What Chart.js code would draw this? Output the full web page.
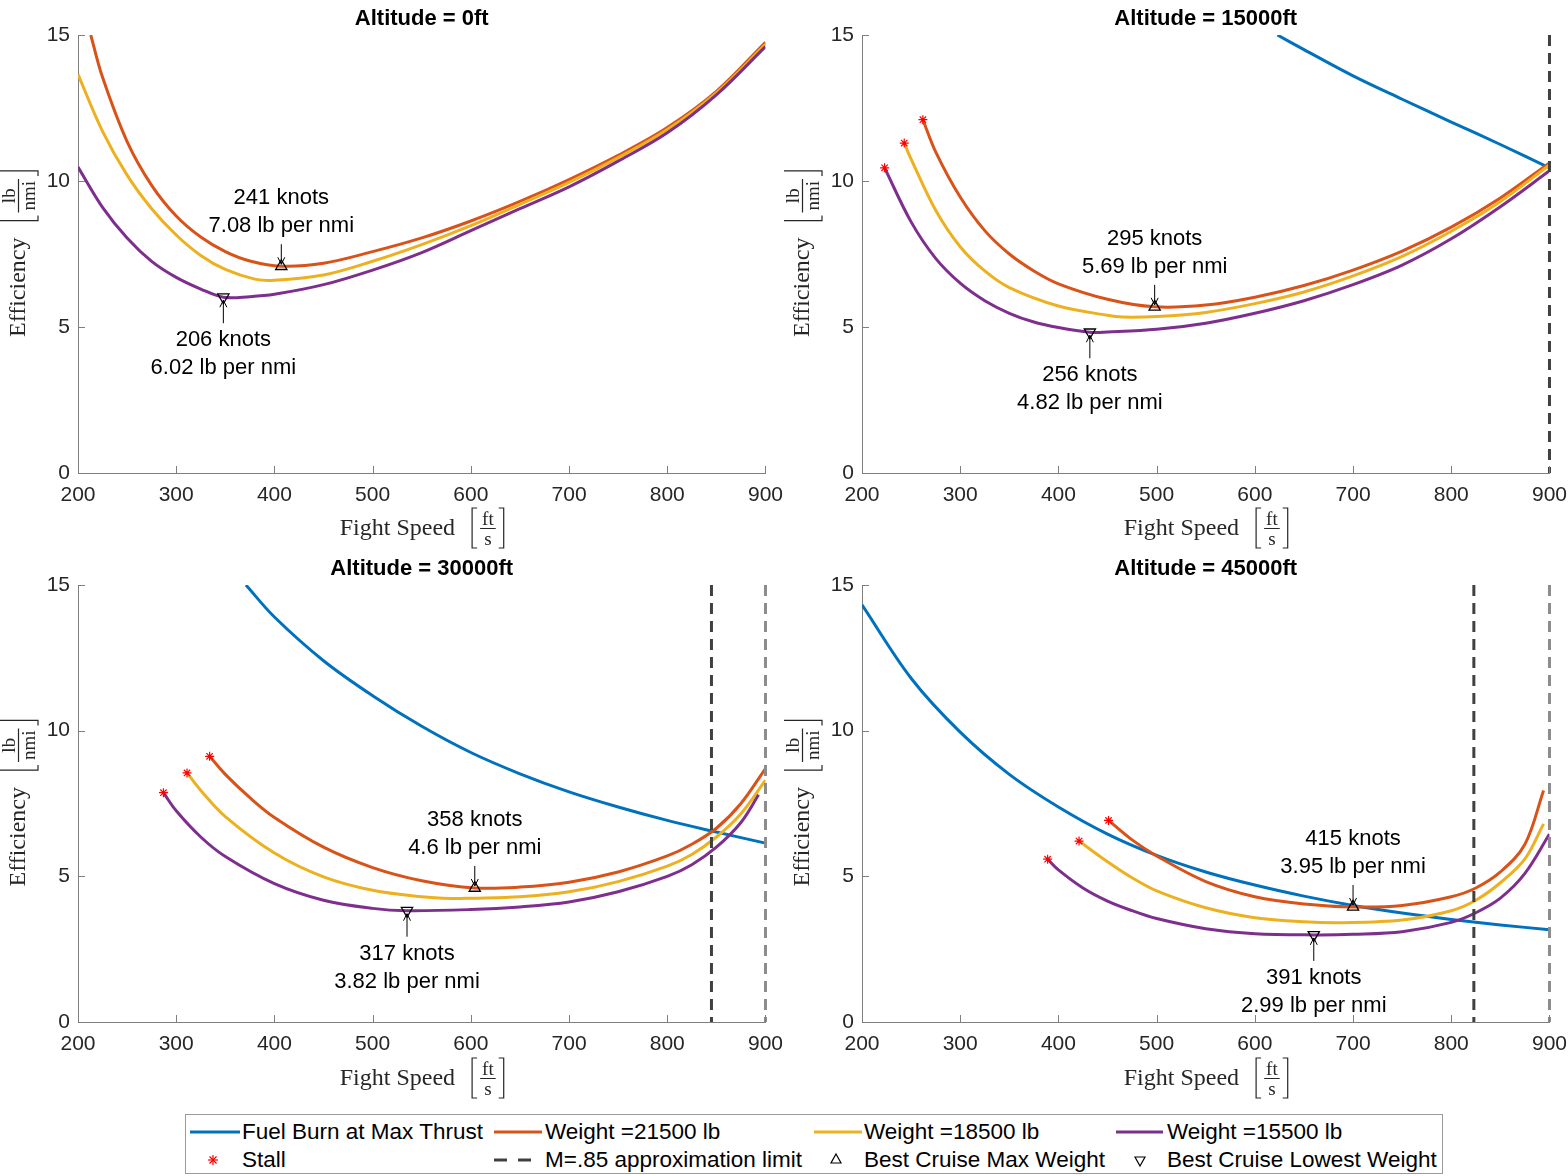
<!DOCTYPE html>
<html>
<head>
<meta charset="utf-8">
<script src="https://cdn.jsdelivr.net/npm/chart.js@4.4.1/dist/chart.umd.min.js"></script>
<style>
  body { margin: 0; background: #fff; width: 1568px; height: 1176px; position: relative; overflow: hidden; font-family: "Liberation Sans", Arial, sans-serif; }
  .panel { position: absolute; width: 793px; height: 560px; }
  #legend { position: absolute; left: 185px; top: 1114px; width: 1256px; height: 58px; border: 1px solid #9a9a9a; background: #fff; }
  #legend span { position: absolute; font-size: 22.5px; line-height: 26px; color: #000; white-space: nowrap; }
  #legend svg { position: absolute; left: 0; top: 0; }
</style>
</head>
<body>
<div class="panel" style="left:0;top:0"><canvas id="c0" width="793" height="560"></canvas></div>
<div class="panel" style="left:784px;top:0"><canvas id="c1" width="793" height="560"></canvas></div>
<div class="panel" style="left:0;top:550px"><canvas id="c2" width="793" height="560"></canvas></div>
<div class="panel" style="left:784px;top:550px"><canvas id="c3" width="793" height="560"></canvas></div>

<div id="legend">
  <svg width="1256" height="58">
    <line x1="4" y1="17" x2="54" y2="17" stroke="#0072BD" stroke-width="3"/>
    <line x1="308" y1="17" x2="356" y2="17" stroke="#D95319" stroke-width="3"/>
    <line x1="628" y1="17" x2="676" y2="17" stroke="#EDB120" stroke-width="3"/>
    <line x1="930" y1="17" x2="977" y2="17" stroke="#7E2F8E" stroke-width="3"/>
    <g stroke="#ff0000" stroke-width="1.2">
      <line x1="22" y1="45" x2="32" y2="45"/><line x1="27" y1="40" x2="27" y2="50"/>
      <line x1="23.5" y1="41.5" x2="30.5" y2="48.5"/><line x1="30.5" y1="41.5" x2="23.5" y2="48.5"/>
    </g>
    <line x1="308" y1="45" x2="356" y2="45" stroke="#404040" stroke-width="3" stroke-dasharray="13 11"/>
    <polygon points="650,39 655,48 645,48" fill="none" stroke="#000" stroke-width="1.2"/>
    <polygon points="954,51 959,42 949,42" fill="none" stroke="#000" stroke-width="1.2"/>
  </svg>
  <span style="left:56px;top:4px">Fuel Burn at Max Thrust</span>
  <span style="left:359px;top:4px">Weight =21500 lb</span>
  <span style="left:678px;top:4px">Weight =18500 lb</span>
  <span style="left:981px;top:4px">Weight =15500 lb</span>
  <span style="left:56px;top:32px">Stall</span>
  <span style="left:359px;top:32px">M=.85 approximation limit</span>
  <span style="left:678px;top:32px">Best Cruise Max Weight</span>
  <span style="left:981px;top:32px">Best Cruise Lowest Weight</span>
</div>

<script>
// axis ticks
const xTickValues = [200, 300, 400, 500, 600, 700, 800, 900];
const yTickValues = [0, 5, 10, 15];

// ---- Altitude = 0ft ----
const a0SpeedHeavy = [213, 225, 250, 275, 300, 325, 350, 375, 407, 450, 500, 550, 600, 650, 700, 750, 800, 850, 900];
const a0EffHeavy   = [15.0, 13.55, 11.35, 9.85, 8.8, 8.08, 7.58, 7.26, 7.08, 7.18, 7.58, 8.05, 8.63, 9.3, 10.05, 10.88, 11.83, 13.07, 14.75];
const a0SpeedMid   = [200, 225, 250, 275, 300, 325, 350, 380, 400, 450, 500, 550, 600, 650, 700, 750, 800, 850, 900];
const a0EffMid     = [13.65, 11.7, 10.2, 9.05, 8.15, 7.45, 6.97, 6.64, 6.6, 6.78, 7.25, 7.82, 8.47, 9.2, 9.95, 10.8, 11.76, 13.02, 14.68];
const a0SpeedLight = [200, 225, 250, 275, 300, 325, 348, 375, 400, 450, 500, 550, 600, 650, 700, 750, 800, 850, 900];
const a0EffLight   = [10.48, 9.1, 8.05, 7.25, 6.7, 6.3, 6.02, 6.04, 6.12, 6.45, 6.95, 7.55, 8.3, 9.05, 9.8, 10.68, 11.65, 12.95, 14.6];

// ---- Altitude = 15000ft ----
const a15SpeedThrust = [623, 650, 700, 750, 800, 850, 900];
const a15EffThrust   = [15.0, 14.5, 13.6, 12.8, 12.02, 11.25, 10.45];
const a15SpeedHeavy  = [262, 275, 300, 325, 350, 375, 400, 450, 498, 550, 600, 650, 700, 750, 800, 850, 900];
const a15EffHeavy    = [12.1, 11.0, 9.45, 8.3, 7.5, 6.92, 6.48, 5.95, 5.69, 5.75, 6.02, 6.42, 6.95, 7.6, 8.42, 9.42, 10.62];
const a15SpeedMid    = [243, 250, 275, 300, 325, 350, 400, 450, 465, 500, 550, 600, 650, 700, 750, 800, 850, 900];
const a15EffMid      = [11.3, 10.75, 9.0, 7.75, 6.92, 6.35, 5.72, 5.4, 5.34, 5.36, 5.5, 5.8, 6.2, 6.75, 7.42, 8.28, 9.3, 10.55];
const a15SpeedLight  = [223, 250, 275, 300, 325, 350, 375, 400, 432, 450, 500, 550, 600, 650, 700, 750, 800, 850, 900];
const a15EffLight    = [10.45, 8.6, 7.35, 6.5, 5.9, 5.47, 5.17, 4.98, 4.82, 4.83, 4.92, 5.13, 5.47, 5.9, 6.45, 7.12, 8.02, 9.12, 10.35];

// ---- Altitude = 30000ft ----
const a30SpeedThrust = [371, 400, 450, 500, 550, 600, 650, 700, 750, 800, 850, 900];
const a30EffThrust   = [15.0, 13.9, 12.4, 11.2, 10.15, 9.25, 8.52, 7.9, 7.38, 6.92, 6.52, 6.14];
const a30SpeedHeavy  = [334, 350, 375, 400, 450, 500, 550, 604, 650, 700, 750, 800, 825, 850, 875, 900];
const a30EffHeavy    = [9.12, 8.5, 7.7, 7.02, 6.0, 5.3, 4.85, 4.6, 4.63, 4.8, 5.15, 5.7, 6.1, 6.65, 7.5, 8.7];
const a30SpeedMid    = [311, 325, 350, 400, 450, 500, 550, 580, 600, 650, 700, 750, 800, 825, 850, 875, 900];
const a30EffMid      = [8.55, 7.95, 7.05, 5.8, 4.98, 4.52, 4.3, 4.24, 4.25, 4.3, 4.47, 4.82, 5.35, 5.75, 6.35, 7.15, 8.3];
const a30SpeedLight  = [287, 300, 325, 350, 400, 450, 500, 535, 600, 650, 700, 750, 800, 825, 850, 875, 893];
const a30EffLight    = [7.87, 7.25, 6.35, 5.68, 4.75, 4.18, 3.9, 3.82, 3.86, 3.95, 4.12, 4.47, 5.0, 5.4, 6.0, 6.85, 7.8];

// ---- Altitude = 45000ft ----
const a45SpeedThrust = [200, 250, 300, 350, 400, 450, 500, 550, 600, 650, 700, 750, 800, 850, 900];
const a45EffThrust   = [14.32, 11.8, 9.95, 8.5, 7.38, 6.45, 5.72, 5.15, 4.7, 4.32, 4.0, 3.74, 3.52, 3.33, 3.17];
const a45SpeedHeavy  = [451, 475, 500, 550, 600, 650, 700, 750, 800, 825, 850, 875, 894];
const a45EffHeavy    = [6.92, 6.25, 5.7, 4.82, 4.3, 4.05, 3.95, 4.0, 4.3, 4.6, 5.15, 6.1, 7.95];
const a45SpeedMid    = [421, 450, 475, 500, 550, 600, 650, 690, 750, 800, 825, 850, 875, 894];
const a45EffMid      = [6.21, 5.5, 4.95, 4.5, 3.92, 3.58, 3.44, 3.41, 3.5, 3.82, 4.18, 4.78, 5.6, 6.8];
const a45SpeedLight  = [389, 400, 425, 450, 475, 500, 550, 600, 660, 700, 750, 800, 825, 850, 875, 900];
const a45EffLight    = [5.59, 5.22, 4.6, 4.15, 3.82, 3.55, 3.2, 3.03, 2.99, 3.01, 3.1, 3.42, 3.75, 4.25, 5.1, 6.45];

// best cruise points: speed (ft/s), efficiency, knots label, lb/nmi label
const bestMaxSpeed  = [407, 498, 604, 700];
const bestMaxEff    = [7.08, 5.69, 4.6, 3.95];
const bestMaxKnots  = ['241', '295', '358', '415'];
const bestMaxLabel  = ['7.08', '5.69', '4.6', '3.95'];
const bestMinSpeed  = [348, 432, 535, 660];
const bestMinEff    = [6.02, 4.82, 3.82, 2.99];
const bestMinKnots  = ['206', '256', '317', '391'];
const bestMinLabel  = ['6.02', '4.82', '3.82', '2.99'];

// M=.85 limit lines (dark) and chart edge line (light)
const machLimit = [null, 900, 845, 823];
const edgeLimit = [null, null, 900, 900];

const titles = ['Altitude = 0ft', 'Altitude = 15000ft', 'Altitude = 30000ft', 'Altitude = 45000ft'];

const BLUE = '#0072BD', ORANGE = '#D95319', YELLOW = '#EDB120', PURPLE = '#7E2F8E';
const FONT = '"Liberation Sans", Arial, sans-serif';
const SERIF = '"Liberation Serif", "Times New Roman", serif';

const panels = [
  { thrust: null, heavy: [a0SpeedHeavy, a0EffHeavy], mid: [a0SpeedMid, a0EffMid], light: [a0SpeedLight, a0EffLight], stall: false },
  { thrust: [a15SpeedThrust, a15EffThrust], heavy: [a15SpeedHeavy, a15EffHeavy], mid: [a15SpeedMid, a15EffMid], light: [a15SpeedLight, a15EffLight], stall: true },
  { thrust: [a30SpeedThrust, a30EffThrust], heavy: [a30SpeedHeavy, a30EffHeavy], mid: [a30SpeedMid, a30EffMid], light: [a30SpeedLight, a30EffLight], stall: true },
  { thrust: [a45SpeedThrust, a45EffThrust], heavy: [a45SpeedHeavy, a45EffHeavy], mid: [a45SpeedMid, a45EffMid], light: [a45SpeedLight, a45EffLight], stall: true }
];

function pts(pair) {
  return pair[0].map((x, i) => ({ x: x, y: pair[1][i] }));
}

function curve(pair, color) {
  return {
    data: pts(pair), showLine: true, borderColor: color, borderWidth: 3,
    pointRadius: 0, tension: 0.35, fill: false
  };
}

function vline(x, color) {
  return {
    data: [{ x: x, y: 15 }, { x: x, y: 0 }], showLine: true, borderColor: color,
    borderWidth: 3, borderDash: [11, 7], pointRadius: 0, clip: false
  };
}

// Label with [num/den] bracket, like the LaTeX axis labels
function unitLabel(ctx, word, num, den, cx, cy, rot) {
  ctx.save();
  ctx.translate(cx, cy);
  ctx.rotate(rot);
  ctx.fillStyle = '#262626';
  ctx.strokeStyle = '#262626';
  ctx.font = '24px ' + SERIF;
  const w1 = ctx.measureText(word).width;
  ctx.font = '19px ' + SERIF;
  const fw = Math.max(ctx.measureText(num).width, ctx.measureText(den).width) + 4;
  const gap = 17, bw = 5, inner = 3;
  const total = w1 + gap + bw + inner + fw + inner + bw;
  const x0 = -total / 2;
  ctx.font = '24px ' + SERIF;
  ctx.textAlign = 'left';
  ctx.textBaseline = 'middle';
  ctx.fillText(word, x0, 1);
  const bx = x0 + w1 + gap;
  const fx = bx + bw + inner;
  const rx = fx + fw + inner + bw;
  ctx.lineWidth = 1.2;
  ctx.beginPath();
  ctx.moveTo(bx + bw, -20); ctx.lineTo(bx, -20); ctx.lineTo(bx, 20); ctx.lineTo(bx + bw, 20);
  ctx.moveTo(rx - bw, -20); ctx.lineTo(rx, -20); ctx.lineTo(rx, 20); ctx.lineTo(rx - bw, 20);
  ctx.moveTo(fx, 0.5); ctx.lineTo(fx + fw, 0.5);
  ctx.stroke();
  ctx.font = '19px ' + SERIF;
  ctx.textAlign = 'center';
  ctx.textBaseline = 'alphabetic';
  ctx.fillText(num, fx + fw / 2, -3);
  ctx.textBaseline = 'top';
  ctx.fillText(den, fx + fw / 2, 3);
  ctx.restore();
}

function arrow(ctx, x, yFrom, yTo) {
  const dir = yTo > yFrom ? 1 : -1;
  ctx.beginPath();
  ctx.moveTo(x, yFrom); ctx.lineTo(x, yTo);
  ctx.moveTo(x - 3.5, yTo - dir * 7); ctx.lineTo(x, yTo); ctx.lineTo(x + 3.5, yTo - dir * 7);
  ctx.stroke();
}

function decorPlugin(i) {
  return {
    id: 'decor' + i,
    afterDraw(chart) {
      const ctx = chart.ctx, a = chart.chartArea, x = chart.scales.x, y = chart.scales.y;
      ctx.save();
      // inward ticks
      ctx.strokeStyle = '#7f7f7f';
      ctx.lineWidth = 1;
      ctx.beginPath();
      xTickValues.forEach(v => {
        const px = Math.round(x.getPixelForValue(v)) + 0.5;
        ctx.moveTo(px, a.bottom); ctx.lineTo(px, a.bottom - 7);
      });
      yTickValues.forEach(v => {
        const py = Math.round(y.getPixelForValue(v)) + 0.5;
        ctx.moveTo(a.left, py); ctx.lineTo(a.left + 7, py);
      });
      ctx.stroke();

      // title
      ctx.fillStyle = '#000';
      ctx.font = 'bold 22px ' + FONT;
      ctx.textAlign = 'center';
      ctx.textBaseline = 'middle';
      ctx.fillText(titles[i], (a.left + a.right) / 2, 19);

      unitLabel(ctx, 'Fight Speed', 'ft', 's', (a.left + a.right) / 2, 528, 0);
      unitLabel(ctx, 'Efficiency', 'lb', 'nmi', 18, (a.top + a.bottom) / 2, -Math.PI / 2);

      // best cruise notes
      ctx.strokeStyle = '#000';
      ctx.lineWidth = 1;
      ctx.fillStyle = '#000';
      ctx.font = '22px ' + FONT;
      const ux = x.getPixelForValue(bestMaxSpeed[i]), uy = y.getPixelForValue(bestMaxEff[i]);
      ctx.fillText(bestMaxKnots[i] + ' knots', ux, uy - 68);
      ctx.fillText(bestMaxLabel[i] + ' lb per nmi', ux, uy - 40);
      arrow(ctx, ux, uy - 22, uy - 2);
      const dx = x.getPixelForValue(bestMinSpeed[i]), dy = y.getPixelForValue(bestMinEff[i]);
      ctx.fillText(bestMinKnots[i] + ' knots', dx, dy + 43);
      ctx.fillText(bestMinLabel[i] + ' lb per nmi', dx, dy + 71);
      arrow(ctx, dx, dy + 26, dy + 3);
      ctx.restore();
    }
  };
}

panels.forEach((p, i) => {
  const datasets = [];
  datasets.push({
    data: [{ x: bestMinSpeed[i], y: bestMinEff[i] }], pointStyle: 'triangle', rotation: 180,
    pointRadius: 6.5, borderColor: '#000', backgroundColor: 'rgba(0,0,0,0)', borderWidth: 1.3, clip: false
  });
  datasets.push({
    data: [{ x: bestMaxSpeed[i], y: bestMaxEff[i] }], pointStyle: 'triangle',
    pointRadius: 6.5, borderColor: '#000', backgroundColor: 'rgba(0,0,0,0)', borderWidth: 1.3, clip: false
  });
  if (p.stall) {
    datasets.push({
      data: [p.heavy, p.mid, p.light].map(c => ({ x: c[0][0], y: c[1][0] })),
      pointStyle: 'star', pointRadius: 4.5, borderColor: '#ff0000', borderWidth: 1.2, clip: false
    });
  }
  if (machLimit[i] !== null) datasets.push(vline(machLimit[i], '#404040'));
  if (edgeLimit[i] !== null) datasets.push(vline(edgeLimit[i], '#8c8c8c'));
  datasets.push(curve(p.light, PURPLE));
  datasets.push(curve(p.mid, YELLOW));
  datasets.push(curve(p.heavy, ORANGE));
  if (p.thrust) datasets.push(curve(p.thrust, BLUE));

  const tickFont = { size: 21, family: FONT };
  new Chart(document.getElementById('c' + i), {
    type: 'scatter',
    data: { datasets: datasets },
    options: {
      responsive: false,
      animation: false,
      devicePixelRatio: 1,
      layout: { padding: { top: 35, right: 10, left: 0, bottom: 0 } },
      plugins: { legend: { display: false }, tooltip: { enabled: false } },
      scales: {
        x: {
          type: 'linear', min: 200, max: 900,
          afterBuildTicks: s => { s.ticks = xTickValues.map(v => ({ value: v })); },
          afterFit: s => { s.height = i < 2 ? 87 : 88; },
          ticks: { font: tickFont, color: '#262626', padding: 10, maxRotation: 0 },
          grid: { display: false, drawTicks: false },
          border: { color: '#7f7f7f', width: 1 }
        },
        y: {
          type: 'linear', min: 0, max: 15,
          afterBuildTicks: s => { s.ticks = yTickValues.map(v => ({ value: v })); },
          afterFit: s => { s.width = 78; },
          ticks: { font: tickFont, color: '#262626', padding: 8 },
          grid: { display: false, drawTicks: false },
          border: { color: '#7f7f7f', width: 1 }
        }
      }
    },
    plugins: [decorPlugin(i)]
  });
});
</script>
</body>
</html>
